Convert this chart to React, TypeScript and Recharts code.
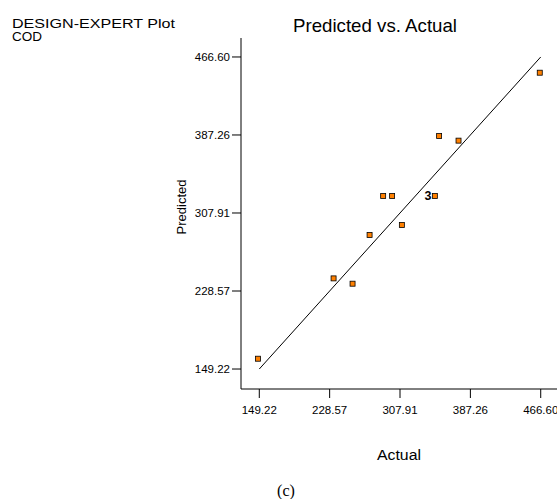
import { ReferenceLine, Scatter, ScatterChart, XAxis, YAxis } from "recharts";

const actual = [147.8, 233.0, 254.4, 273.6, 288.9, 299.0, 310.0, 347.2, 352.0, 373.9, 465.5];
const predicted = [159.7, 241.4, 236.0, 285.5, 325.2, 325.2, 295.7, 325.2, 386.2, 381.5, 450.6];
const replicates = [1, 1, 1, 1, 1, 1, 1, 3, 1, 1, 1];
const ticks = [149.22, 228.57, 307.91, 387.26, 466.6];

const points = actual.map((a, i) => ({ actual: a, predicted: predicted[i], rep: replicates[i] }));

const FONT = "'Liberation Sans', Arial, sans-serif";
const tickStyle = { fontSize: 11.5, fill: "#000", fontFamily: FONT };

function Marker(props: any) {
  const { cx, cy, payload } = props;
  return (
    <g>
      {payload.rep > 1 && (
        <text x={cx - 3.5} y={cy + 4.5} textAnchor="end" fontSize={12.5} fontWeight="bold" fontFamily={FONT} fill="#000">
          {payload.rep}
        </text>
      )}
      <rect x={cx - 2.5} y={cy - 2.5} width={5} height={5} fill="#ff8000" stroke="#000" strokeWidth={0.8} />
    </g>
  );
}

export default function App() {
  return (
    <div style={{ position: "absolute", left: 0, top: 0, width: 557, height: 499, overflow: "hidden", background: "#fff" }}>
      <ScatterChart width={562} height={499} margin={{ top: 38, right: 3, bottom: 0, left: 0 }}>
        <XAxis
          type="number"
          dataKey="actual"
          domain={[128.6, 487.2]}
          ticks={ticks}
          tickFormatter={(v: number) => v.toFixed(2)}
          height={110}
          tickSize={9}
          tickMargin={8}
          tick={tickStyle}
          stroke="#000"
          allowDataOverflow
        />
        <XAxis xAxisId="top" type="number" orientation="top" domain={[128.6, 487.2]} tick={false} tickLine={false} height={0} stroke="#000" />
        <YAxis
          type="number"
          dataKey="predicted"
          domain={[128.9, 485.9]}
          ticks={ticks}
          tickFormatter={(v: number) => v.toFixed(2)}
          width={241}
          tickSize={9}
          tick={tickStyle}
          stroke="#000"
          allowDataOverflow
        />
        <YAxis yAxisId="right" type="number" orientation="right" domain={[128.9, 485.9]} tick={false} tickLine={false} width={0} stroke="#000" />
        <ReferenceLine
          segment={[
            { x: 149.22, y: 149.22 },
            { x: 466.6, y: 466.6 },
          ]}
          stroke="#000"
          strokeWidth={1}
        />
        <Scatter data={points} shape={<Marker />} isAnimationActive={false} />
      </ScatterChart>
      <svg width={557} height={499} style={{ position: "absolute", left: 0, top: 0, pointerEvents: "none" }}>
        <text x={12} y={27.5} fontSize={12.5} textLength={163} lengthAdjust="spacingAndGlyphs" fontFamily={FONT} fill="#000">DESIGN-EXPERT Plot</text>
        <text x={12} y={41} fontSize={12.5} textLength={30} lengthAdjust="spacingAndGlyphs" fontFamily={FONT} fill="#000">COD</text>
        <text x={293} y={32} fontSize={19} textLength={164} lengthAdjust="spacingAndGlyphs" fontFamily={FONT} fill="#000">Predicted vs. Actual</text>
        <text x={186} y={207} transform="rotate(-90 186 207)" textAnchor="middle" fontSize={13} fontFamily={FONT} fill="#000">Predicted</text>
        <text x={399} y={460} textAnchor="middle" fontSize={14} textLength={44} lengthAdjust="spacingAndGlyphs" fontFamily={FONT} fill="#000">Actual</text>
        <text x={286} y={496} textAnchor="middle" fontSize={16} fontFamily="'Liberation Serif', 'Times New Roman', serif" fill="#000">(c)</text>
      </svg>
    </div>
  );
}
